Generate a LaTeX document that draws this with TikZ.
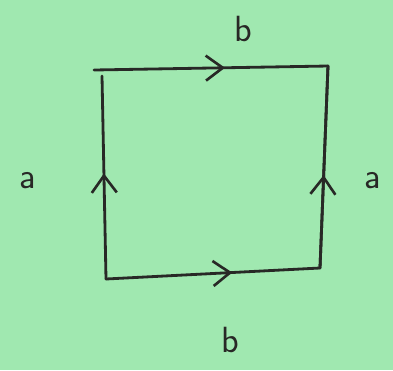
\documentclass[tikz,border=0pt]{standalone}
\usepackage{xcolor}
\usetikzlibrary{arrows.meta}
\usetikzlibrary{decorations.markings}
\definecolor{qgreen}{RGB}{160,232,176}
\definecolor{qink}{RGB}{40,40,38}
\tikzset{
edge/.style={color=qink, line width=1.6pt, line cap=round},
glue/.style={edge, postaction={decorate}, decoration={markings, mark=at position #1 with {\arrow{Straight Barb[length=3.4mm, width=5mm, line width=1.5pt]}}}},
lbl/.style={color=qink, font=\sffamily\huge}
}

\begin{document}
\begin{tikzpicture}[x=0.02cm, y=-0.02cm]
\fill[qgreen] (0,0) rectangle (393,370);
\useasboundingbox (0,0) rectangle (393,370);

%corners
\coordinate (tl) at (94,70);
\coordinate (tr) at (328,66);
\coordinate (br) at (320,268);
\coordinate (bl) at (106,279);
\coordinate (lt) at (102,76);

%edges
\draw[glue=0.56] (tl) -- (tr);
\draw[edge] (tr) -- (br);
\draw[glue=0.59] (bl) -- (br);
%up arrows on the sides
\draw[glue=0.52] (bl) -- (lt);
\draw[glue=0.46] (br) -- (tr);

%labels
\node[lbl] (b1) at (243,29) {b};
\node[lbl] (b2) at (230,340) {b};
\node[lbl] (a1) at (28,181) {a};
\node[lbl] (a2) at (373,181) {a};

\end{tikzpicture}
\end{document}
